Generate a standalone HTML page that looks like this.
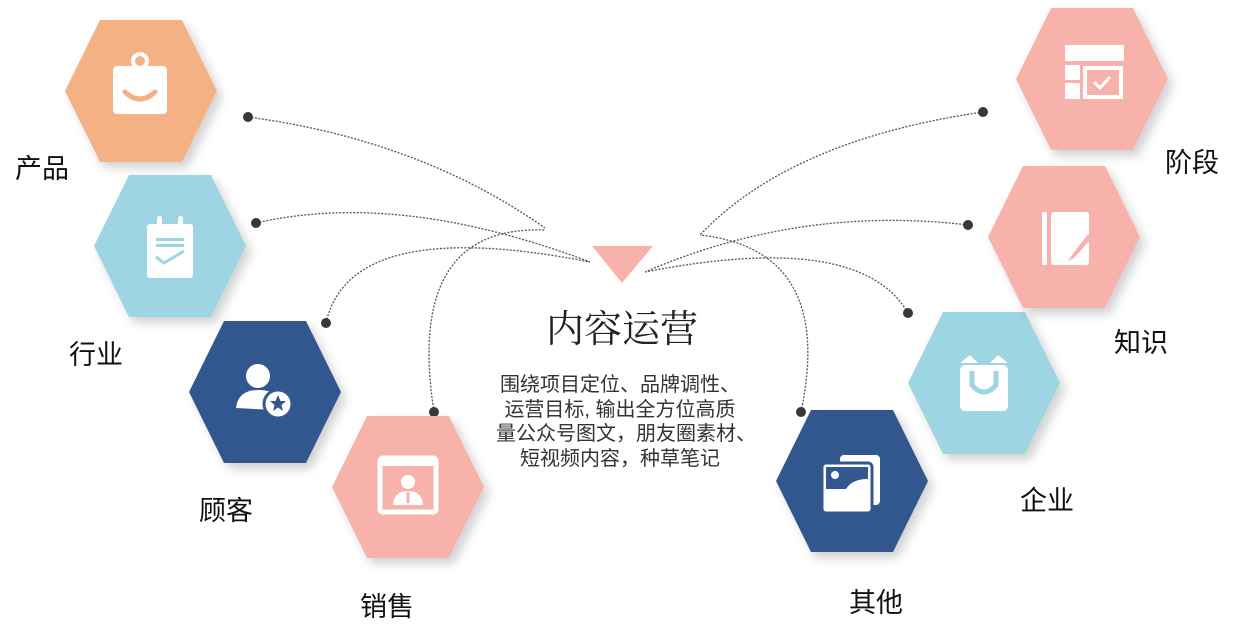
<!DOCTYPE html>
<html><head><meta charset="utf-8"><style>
html,body{margin:0;padding:0;background:#fff;}
body{width:1235px;height:640px;overflow:hidden;position:relative;font-family:"Liberation Sans","Noto Sans CJK SC",sans-serif;}
svg{position:absolute;left:0;top:0;}
</style></head><body>
<svg width="1235" height="640" viewBox="0 0 1235 640" xmlns="http://www.w3.org/2000/svg">
<defs>
<filter id="sh" x="-20%" y="-20%" width="150%" height="150%"><feDropShadow dx="5" dy="6" stdDeviation="5" flood-color="#000" flood-opacity="0.18"/></filter>
<polygon id="hx" points="-76,0 -41,-71 41,-71 76,0 41,71 -41,71"/>
</defs>
<g fill="none" stroke="#555" stroke-width="1.3" stroke-dasharray="2,1.5">
<path d="M248,117 Q420,140 545,228"/>
<path d="M256,223 Q400,190 590,262"/>
<path d="M326,323 Q350,215 590,262"/>
<path d="M434,412 Q405,225 545,230"/>
<path d="M983,112 Q790,140 700,235"/>
<path d="M968,225 Q800,205 645,272"/>
<path d="M908,313 Q860,230 645,272"/>
<path d="M801,412 Q835,250 700,235"/>
</g>
<g fill="#3a3640">
<circle cx="248" cy="117" r="5"/><circle cx="256" cy="223" r="5"/><circle cx="326" cy="323" r="5"/><circle cx="434" cy="412" r="5"/>
<circle cx="801" cy="412" r="5"/><circle cx="908" cy="313" r="5"/><circle cx="968" cy="225" r="5"/><circle cx="983" cy="112" r="5"/>
</g>
<polygon points="592,246 653,246 622,283" fill="#F8B2AC"/>
<use href="#hx" x="141" y="91" fill="#F4B183" filter="url(#sh)"/>
<use href="#hx" x="170" y="246" fill="#9DD6E2" filter="url(#sh)"/>
<use href="#hx" x="265" y="392" fill="#33578E" filter="url(#sh)"/>
<use href="#hx" x="408" y="487" fill="#F8B2AC" filter="url(#sh)"/>
<use href="#hx" x="852" y="481" fill="#33578E" filter="url(#sh)"/>
<use href="#hx" x="984" y="383" fill="#9DD6E2" filter="url(#sh)"/>
<use href="#hx" x="1064" y="237" fill="#F8B2AC" filter="url(#sh)"/>
<use href="#hx" x="1092" y="79" fill="#F8B2AC" filter="url(#sh)"/>
<g transform="translate(140,88)" fill="#fff">
<circle cx="0" cy="-27" r="7" fill="none" stroke="#fff" stroke-width="4"/>
<rect x="-27" y="-22" width="54" height="48" rx="4"/>
<path d="M-15,4 Q0,18 15,4" fill="none" stroke="#F4B183" stroke-width="5" stroke-linecap="round"/>
</g>
<g transform="translate(170,246)" fill="#fff">
<rect x="-23" y="-22" width="46" height="54" rx="3"/>
<rect x="-13" y="-30" width="5" height="12" rx="2.5"/><rect x="8" y="-30" width="5" height="12" rx="2.5"/>
<rect x="-14" y="-8" width="28" height="3" fill="#9DD6E2"/><rect x="-14" y="-2" width="28" height="3" fill="#9DD6E2"/>
<path d="M-14,11 L-6,17 L14,5" fill="none" stroke="#9DD6E2" stroke-width="3"/>
</g>
<g transform="translate(262,388)" fill="#fff">
<circle cx="-4" cy="-12" r="12"/>
<path d="M-26,20 Q-24,2 -4,2 Q10,2 14,8 L12,22 Z"/>
<circle cx="16" cy="16" r="14" stroke="#33578E" stroke-width="3"/>
<polygon points="16,7 18.5,13 24,13 19.5,17 21,23 16,19.5 11,23 12.5,17 8,13 13.5,13" fill="#33578E"/>
</g>
<g transform="translate(408,485)" fill="#fff">
<rect x="-28" y="-27" width="56" height="54" rx="3" fill="none" stroke="#fff" stroke-width="5"/>
<rect x="-28" y="-27" width="56" height="8"/>
<circle cx="0" cy="-3" r="7"/>
<path d="M-15,20 Q-14,6 0,6 Q14,6 15,20 Z"/>
<rect x="-1.5" y="7" width="3" height="11" fill="#F8B2AC"/>
</g>
<g transform="translate(852,481)" fill="#fff">
<rect x="-12" y="-26" width="40" height="50" rx="4"/>
<rect x="-30" y="-18" width="50" height="50" rx="4" stroke="#33578E" stroke-width="3"/>
<path d="M-26,-14 L16,-14 L16,-2 Q0,-2 -6,8 L-26,8 Z" fill="#33578E"/>
<circle cx="-17" cy="-6" r="4"/>
</g>
<g transform="translate(984,383)" fill="#fff">
<path d="M-24,-20 L-14,-28 L-6,-20 L6,-20 L14,-28 L24,-20 Z"/>
<rect x="-24" y="-18" width="48" height="46" rx="5"/>
<path d="M-12,-12 L-12,2 Q0,16 12,2 L12,-12" fill="none" stroke="#9DD6E2" stroke-width="5"/>
</g>
<g transform="translate(1066,239)" fill="#fff">
<rect x="-24" y="-27" width="5" height="53" rx="2"/>
<rect x="-15" y="-27" width="38" height="53" rx="3"/>
<path d="M22,-5 L6,16 L2,22 L8,19 L25,0 Z" fill="#F8B2AC"/>
</g>
<g transform="translate(1094,76)" fill="#fff">
<rect x="-29" y="-31" width="59" height="16"/>
<rect x="-29" y="-11" width="15" height="15"/><rect x="-29" y="7" width="15" height="16"/>
<rect x="-9" y="-8" width="36" height="29" fill="none" stroke="#fff" stroke-width="4"/>
<path d="M0,6 L6,12 L16,1" fill="none" stroke="#fff" stroke-width="3"/>
</g>
<g font-size="27" fill="#111" text-anchor="middle">
<text x="42" y="178">产品</text>
<text x="96" y="364">行业</text>
<text x="226" y="520">顾客</text>
<text x="387" y="616">销售</text>
<text x="876" y="612">其他</text>
<text x="1047" y="510">企业</text>
<text x="1141" y="352">知识</text>
<text x="1192" y="172">阶段</text>
</g>
<text x="622" y="342" font-size="38" fill="#222" text-anchor="middle" font-family="Noto Serif CJK SC, serif">内容运营</text>
<g font-size="20" fill="#333" text-anchor="middle">
<text x="620" y="391">围绕项目定位、品牌调性、</text>
<text x="620" y="416">运营目标, 输出全方位高质</text>
<text x="626" y="440">量公众号图文，朋友圈素材、</text>
<text x="620" y="465">短视频内容，种草笔记</text>
</g>
</svg>
</body></html>
